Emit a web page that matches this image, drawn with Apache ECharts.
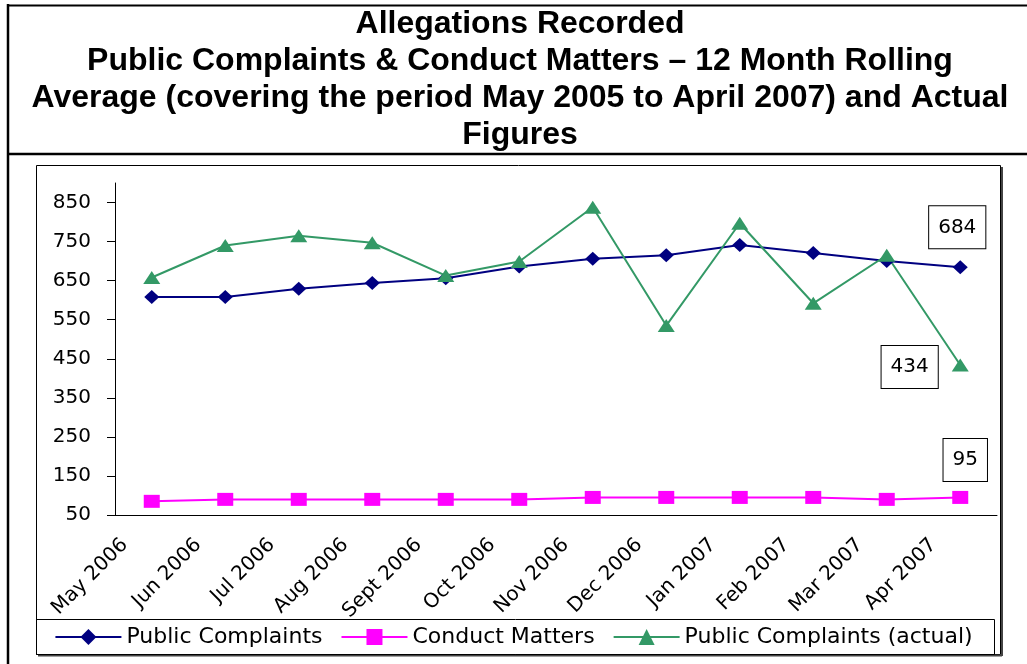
<!DOCTYPE html>
<html>
<head>
<meta charset="utf-8">
<script src="https://cdn.jsdelivr.net/npm/echarts@6/dist/echarts.min.js"></script>
<style>
html, body {
  margin: 0;
  padding: 0;
  background: #fff;
}
#main {
  width: 1027px;
  height: 664px;
}
</style>
</head>
<body>
<div id="main"></div>
<script>
// months on the x axis
const months = ['May 2006', 'Jun 2006', 'Jul 2006', 'Aug 2006', 'Sept 2006', 'Oct 2006',
  'Nov 2006', 'Dec 2006', 'Jan 2007', 'Feb 2007', 'Mar 2007', 'Apr 2007']

// 12 month rolling averages
const publicComplaints = [608, 608, 629, 644, 656, 686, 706, 715, 741, 721, 700, 684]
const conductMatters = [85, 90, 90, 90, 90, 90, 95, 95, 95, 95, 90, 95]
// actual monthly figures
const publicActual = [658, 740, 765, 747, 663, 699, 838, 535, 797, 592, 715, 434]

const yTicks = [50, 150, 250, 350, 450, 550, 650, 750, 850]

const titleLines = [
  'Allegations Recorded',
  'Public Complaints & Conduct Matters \u2013 12 Month Rolling',
  'Average (covering the period May 2005 to April 2007) and Actual',
  'Figures'
]

const font = 'DejaVu Sans'

// boxed value label on the last point only
const withLastLabel = (values, label) => values.map((v, i) => {
  if (i !== values.length - 1) return v
  return {
    value: v,
    label: Object.assign({
      show: true,
      color: '#000',
      fontFamily: font,
      fontSize: 20,
      lineHeight: 22,
      borderColor: '#000',
      borderWidth: 1,
      padding: [10, 9],
      backgroundColor: '#fff'
    }, label)
  }
})

const chart = echarts.init(document.getElementById('main'))

const option = {
  animation: false,
  backgroundColor: '#fff',
  title: {
    text: titleLines.join('\n'),
    left: 520,
    top: 6,
    padding: 0,
    textAlign: 'center',
    textStyle: {
      fontFamily: 'Liberation Sans',
      fontWeight: 'bold',
      fontSize: 32,
      lineHeight: 37,
      color: '#000'
    }
  },
  graphic: [
    // outer frame and title separator
    { type: 'line', shape: { x1: 8, y1: 4, x2: 8, y2: 664 }, style: { stroke: '#000', lineWidth: 2.5 } },
    { type: 'line', shape: { x1: 8, y1: 5.5, x2: 1027, y2: 5.5 }, style: { stroke: '#000', lineWidth: 2 } },
    { type: 'line', shape: { x1: 8, y1: 154, x2: 1027, y2: 154 }, style: { stroke: '#000', lineWidth: 2.5 } },
    // chart area
    { type: 'rect', shape: { x: 36.5, y: 165.5, width: 964, height: 489 }, style: { fill: 'none', stroke: '#000', lineWidth: 1 } },
    { type: 'line', shape: { x1: 1002, y1: 167, x2: 1002, y2: 656 }, style: { stroke: '#444', lineWidth: 2 } },
    { type: 'line', shape: { x1: 38, y1: 655.5, x2: 1002, y2: 655.5 }, style: { stroke: '#444', lineWidth: 2 } },
    // legend box
    { type: 'rect', shape: { x: 36.5, y: 619.5, width: 958, height: 35 }, style: { fill: 'none', stroke: '#000', lineWidth: 1 } }
  ],
  legend: {
    data: ['Public Complaints', 'Conduct Matters', 'Public Complaints (actual)'],
    left: 'center',
    top: 626,
    padding: 0,
    itemWidth: 66,
    itemHeight: 20,
    itemGap: 18,
    textStyle: {
      fontFamily: font,
      fontSize: 22,
      color: '#000'
    }
  },
  grid: {
    left: 115,
    right: 30,
    top: 183,
    bottom: 149
  },
  xAxis: {
    type: 'category',
    data: months,
    boundaryGap: true,
    axisLine: { lineStyle: { color: '#000', width: 1 } },
    axisTick: { length: 8, lineStyle: { color: '#000' } },
    axisLabel: {
      rotate: 45,
      margin: 0,
      padding: [0, 38, 14, 0],
      interval: 0,
      color: '#000',
      fontFamily: font,
      fontSize: 20
    },
    splitLine: { show: false }
  },
  yAxis: {
    type: 'value',
    min: 50,
    max: 900,
    interval: 100,
    axisLine: { show: true, lineStyle: { color: '#000', width: 1 } },
    axisTick: { show: true, length: 8, customValues: yTicks, lineStyle: { color: '#000' } },
    axisLabel: {
      margin: 24,
      customValues: yTicks,
      color: '#000',
      fontFamily: font,
      fontSize: 20
    },
    splitLine: { show: false }
  },
  series: [
    {
      name: 'Public Complaints',
      type: 'line',
      data: withLastLabel(publicComplaints, { position: 'top', distance: 12, offset: [-3, 0] }),
      symbol: 'diamond',
      symbolSize: [15, 14],
      color: '#000080',
      lineStyle: { width: 2, color: '#000080' },
      itemStyle: { color: '#000080' },
      emphasis: { disabled: true }
    },
    {
      name: 'Conduct Matters',
      type: 'line',
      data: withLastLabel(conductMatters, { position: 'top', distance: 10, offset: [5, 0] }),
      symbol: 'rect',
      symbolSize: [16, 13],
      color: '#ff00ff',
      lineStyle: { width: 2, color: '#ff00ff' },
      itemStyle: { color: '#ff00ff' },
      emphasis: { disabled: true }
    },
    {
      name: 'Public Complaints (actual)',
      type: 'line',
      data: withLastLabel(publicActual, { position: 'left', distance: 14, offset: [0, 2] }),
      symbol: 'triangle',
      symbolSize: [17, 13],
      color: '#339966',
      lineStyle: { width: 2, color: '#339966' },
      itemStyle: { color: '#339966' },
      emphasis: { disabled: true }
    }
  ]
}

chart.setOption(option)
</script>
</body>
</html>
